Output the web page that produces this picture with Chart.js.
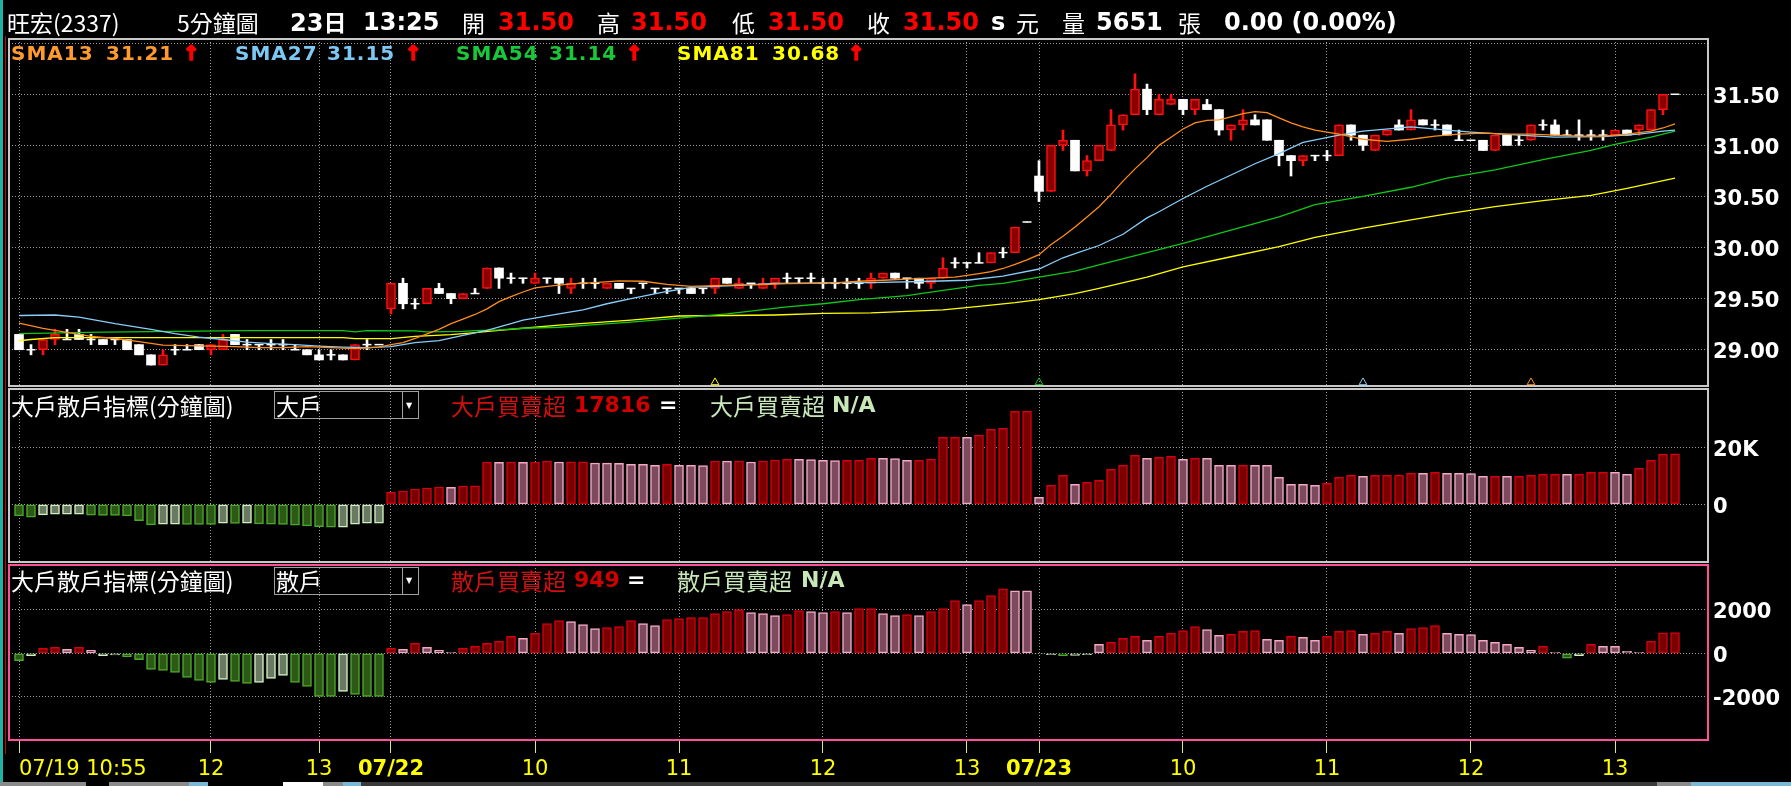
<!DOCTYPE html>
<html lang="zh-Hant">
<head>
<meta charset="UTF-8">
<title>旺宏(2337) 5分鐘圖</title>
<script src="https://cdn.jsdelivr.net/npm/chart.js"></script>
<style>
  html, body { margin: 0; padding: 0; background: #000; }
  body { width: 1791px; height: 786px; position: relative; overflow: hidden; }
  canvas { position: absolute; left: 0; top: 0; }
  .t { position: absolute; white-space: nowrap; line-height: 1; transform: translateY(-50%); color: #fff; }
  .c { font-family: "Noto Sans CJK TC", sans-serif; font-size: 23px; }
  .n { font-family: "DejaVu Sans", sans-serif; font-weight: bold; font-size: 24px; }
  .s { font-family: "DejaVu Sans", sans-serif; font-weight: bold; font-size: 20px; letter-spacing: 1px; }
  .m { font-family: "DejaVu Sans", sans-serif; font-weight: bold; font-size: 22px; }
  .red { color: #ff0000; }
  .arw { color: #ff0000; -webkit-text-stroke: 1.6px #ff0000; }
  .box { position: absolute; border: 1px solid #a0a0a0; }
  .bar { position: absolute; }
</style>
</head>
<body>
<canvas id="price" width="1791" height="786"></canvas>
<canvas id="big" width="1791" height="786"></canvas>
<canvas id="retail" width="1791" height="786"></canvas>

<!-- left edge -->
<div class="bar" style="left:0;top:0;width:3px;height:786px;background:#1fb3a5"></div>
<div class="bar" style="left:5px;top:36px;width:1px;height:718px;background:#d00000"></div>

<!-- header -->
<span class="t c" style="left:7px;top:22px">旺宏(2337)</span>
<span class="t c" style="left:177px;top:22px">5分鐘圖</span>
<span class="t n" style="left:290px;top:22px">23<span style="font-family:'Noto Sans CJK TC';font-size:23px">日</span></span>
<span class="t n" style="left:363px;top:22px">13:25</span>
<span class="t c" style="left:462px;top:22px">開</span>
<span class="t n red" style="left:498px;top:22px">31.50</span>
<span class="t c" style="left:597px;top:22px">高</span>
<span class="t n red" style="left:631px;top:22px">31.50</span>
<span class="t c" style="left:732px;top:22px">低</span>
<span class="t n red" style="left:768px;top:22px">31.50</span>
<span class="t c" style="left:867px;top:22px">收</span>
<span class="t n red" style="left:903px;top:22px">31.50</span>
<span class="t n" style="left:991px;top:22px">s</span>
<span class="t c" style="left:1016px;top:22px">元</span>
<span class="t c" style="left:1062px;top:22px">量</span>
<span class="t n" style="left:1096px;top:22px">5651</span>
<span class="t c" style="left:1178px;top:22px">張</span>
<span class="t n" style="left:1224px;top:22px">0.00 (0.00%)</span>

<!-- moving average legend -->
<span class="t s" style="left:11px;top:53px;color:#ff9a2e">SMA13</span>
<span class="t s" style="left:106px;top:53px;color:#ff9a2e">31.21</span>
<span class="t s arw" style="left:183px;top:53px">↑</span>
<span class="t s" style="left:235px;top:53px;color:#7cc8f4">SMA27</span>
<span class="t s" style="left:327px;top:53px;color:#7cc8f4">31.15</span>
<span class="t s arw" style="left:405px;top:53px">↑</span>
<span class="t s" style="left:456px;top:53px;color:#18c838">SMA54</span>
<span class="t s" style="left:549px;top:53px;color:#18c838">31.14</span>
<span class="t s arw" style="left:626px;top:53px">↑</span>
<span class="t s" style="left:677px;top:53px;color:#ffff00">SMA81</span>
<span class="t s" style="left:772px;top:53px;color:#ffff00">30.68</span>
<span class="t s arw" style="left:848px;top:53px">↑</span>

<!-- panel 2 legend -->
<span class="t c" style="left:11px;top:405px">大戶散戶指標(分鐘圖)</span>
<div class="box" style="left:274px;top:391px;width:143px;height:26px"></div>
<div class="bar" style="left:402px;top:392px;width:1px;height:26px;background:#a0a0a0"></div>
<span class="t" style="left:406px;top:406px;font-size:8px;font-family:'DejaVu Sans'">▼</span>
<span class="t c" style="left:276px;top:405px">大戶</span>
<span class="t c" style="left:451px;top:405px;color:#d01010">大戶買賣超</span>
<span class="t m" style="left:574px;top:405px;color:#d00000">17816</span>
<span class="t m" style="left:659px;top:405px">=</span>
<span class="t c" style="left:710px;top:405px;color:#c8e8b8">大戶買賣超</span>
<span class="t m" style="left:832px;top:405px;color:#c8e8b8">N/A</span>

<!-- panel 3 legend -->
<span class="t c" style="left:11px;top:580px">大戶散戶指標(分鐘圖)</span>
<div class="box" style="left:274px;top:567px;width:143px;height:26px"></div>
<div class="bar" style="left:402px;top:568px;width:1px;height:26px;background:#a0a0a0"></div>
<span class="t" style="left:406px;top:581px;font-size:8px;font-family:'DejaVu Sans'">▼</span>
<span class="t c" style="left:276px;top:580px">散戶</span>
<span class="t c" style="left:451px;top:580px;color:#d01010">散戶買賣超</span>
<span class="t m" style="left:574px;top:580px;color:#d00000">949</span>
<span class="t m" style="left:627px;top:580px">=</span>
<span class="t c" style="left:677px;top:580px;color:#c8e8b8">散戶買賣超</span>
<span class="t m" style="left:801px;top:580px;color:#c8e8b8">N/A</span>

<!-- scroll bar -->
<div class="bar" style="left:0;top:782px;width:86px;height:4px;background:#8a8a8a"></div>
<div class="bar" style="left:109px;top:782px;width:80px;height:4px;background:#8a8a8a"></div>
<div class="bar" style="left:189px;top:782px;width:19px;height:4px;background:#7ab8d8"></div>
<div class="bar" style="left:283px;top:782px;width:40px;height:4px;background:#ffffff"></div>
<div class="bar" style="left:323px;top:782px;width:20px;height:4px;background:#8a8a8a"></div>
<div class="bar" style="left:343px;top:782px;width:18px;height:4px;background:#7ab8d8"></div>
<div class="bar" style="left:361px;top:782px;width:1296px;height:4px;background:#3a3a3a"></div>
<div class="bar" style="left:1657px;top:782px;width:34px;height:4px;background:#8a8a8a"></div>
<div class="bar" style="left:1691px;top:782px;width:100px;height:4px;background:#7ab8d8"></div>

<script>
// ---- data (5-minute bars, 07/19 10:55 .. 07/23 13:25) ----
const candleOpen = [
  29.15,29.00,29.00,29.10,29.10,29.15,29.10,29.10,29.10,29.10,
  29.05,28.95,28.85,29.00,29.00,29.05,29.00,29.00,29.15,29.05,
  29.05,29.05,29.05,29.00,29.00,28.95,28.95,28.95,28.90,29.05,
  29.05,
  29.40,29.65,29.45,29.45,29.60,29.55,29.50,29.55,29.60,
  29.80,29.70,29.70,29.65,29.70,29.70,29.60,29.65,29.65,29.60,
  29.65,29.60,29.65,29.60,29.60,29.60,29.60,29.60,29.60,29.70,
  29.60,29.65,29.60,29.65,29.70,29.70,29.70,29.65,29.65,29.65,
  29.65,29.65,29.70,29.75,29.70,29.70,29.65,29.70,29.85,29.85,
  29.85,29.85,29.95,29.95,30.25,
  30.70,30.55,31.00,31.05,30.75,30.85,30.95,31.20,31.30,31.55,
  31.30,31.40,31.45,31.35,31.40,31.35,31.15,31.20,31.25,31.25,
  31.05,30.90,30.85,30.90,30.90,30.90,31.20,31.10,30.95,31.10,
  31.20,31.15,31.25,31.20,31.20,31.05,31.05,31.05,30.95,31.10,
  31.05,31.05,31.20,31.20,31.10,31.10,31.10,31.10,31.10,31.15,
  31.15,31.15,31.35,31.50
];
const candleHigh = [
  29.15,29.05,29.10,29.20,29.20,29.20,29.15,29.10,29.10,29.10,
  29.05,28.95,29.00,29.05,29.05,29.05,29.05,29.15,29.15,29.10,
  29.05,29.10,29.10,29.05,29.00,29.00,29.00,28.95,29.05,29.10,
  29.05,
  29.65,29.70,29.50,29.60,29.65,29.55,29.55,29.60,29.80,
  29.80,29.75,29.70,29.75,29.70,29.70,29.70,29.70,29.70,29.65,
  29.65,29.60,29.65,29.60,29.60,29.60,29.60,29.60,29.70,29.70,
  29.70,29.65,29.70,29.70,29.75,29.70,29.75,29.70,29.70,29.70,
  29.70,29.75,29.75,29.75,29.70,29.70,29.70,29.90,29.90,29.85,
  29.95,29.95,30.00,30.20,30.25,
  30.85,31.00,31.15,31.05,30.90,31.00,31.35,31.30,31.70,31.60,
  31.50,31.50,31.45,31.45,31.45,31.35,31.20,31.35,31.30,31.25,
  31.05,30.90,30.90,30.90,30.95,31.20,31.20,31.10,31.10,31.15,
  31.25,31.35,31.25,31.25,31.20,31.15,31.05,31.05,31.10,31.10,
  31.10,31.20,31.25,31.25,31.15,31.25,31.15,31.15,31.15,31.15,
  31.20,31.35,31.50,31.50
];
const candleLow = [
  29.00,28.95,28.95,29.05,29.10,29.10,29.05,29.05,29.05,29.00,
  28.95,28.85,28.85,28.95,29.00,29.00,28.95,29.00,29.05,29.00,
  29.00,29.00,29.00,29.00,28.95,28.90,28.90,28.90,28.90,29.00,
  29.05,
  29.35,29.40,29.40,29.45,29.55,29.45,29.50,29.55,29.60,
  29.60,29.65,29.65,29.65,29.65,29.55,29.55,29.60,29.60,29.60,
  29.60,29.55,29.60,29.55,29.55,29.55,29.55,29.55,29.55,29.65,
  29.60,29.60,29.60,29.60,29.65,29.65,29.65,29.60,29.60,29.60,
  29.60,29.60,29.70,29.70,29.60,29.60,29.60,29.70,29.80,29.80,
  29.85,29.85,29.90,29.95,30.25,
  30.45,30.55,30.95,30.75,30.70,30.85,30.95,31.15,31.30,31.30,
  31.30,31.40,31.30,31.30,31.35,31.10,31.05,31.15,31.20,31.05,
  30.80,30.70,30.80,30.85,30.85,30.90,31.05,30.95,30.95,31.10,
  31.15,31.15,31.20,31.15,31.10,31.05,31.05,30.95,30.95,31.00,
  31.00,31.05,31.15,31.10,31.10,31.05,31.05,31.05,31.10,31.10,
  31.10,31.15,31.30,31.50
];
const candleClose = [
  29.00,29.00,29.10,29.15,29.10,29.10,29.10,29.05,29.10,29.00,
  28.95,28.85,28.95,29.00,29.00,29.00,29.05,29.10,29.05,29.05,
  29.05,29.05,29.05,29.00,28.95,28.90,28.95,28.90,29.05,29.05,
  29.05,
  29.65,29.45,29.45,29.60,29.55,29.50,29.55,29.55,29.80,
  29.70,29.70,29.70,29.70,29.70,29.65,29.65,29.65,29.65,29.65,
  29.60,29.60,29.65,29.60,29.60,29.60,29.55,29.60,29.70,29.65,
  29.65,29.65,29.65,29.70,29.70,29.70,29.70,29.65,29.65,29.65,
  29.65,29.70,29.75,29.70,29.70,29.65,29.70,29.80,29.85,29.85,
  29.85,29.95,29.95,30.20,30.25,
  30.55,31.00,31.05,30.75,30.85,31.00,31.20,31.30,31.55,31.35,
  31.45,31.45,31.35,31.45,31.35,31.15,31.20,31.25,31.20,31.05,
  30.90,30.85,30.90,30.90,30.90,31.20,31.10,31.00,31.10,31.15,
  31.15,31.25,31.20,31.20,31.10,31.05,31.05,30.95,31.10,31.00,
  31.05,31.20,31.20,31.10,31.10,31.10,31.10,31.10,31.15,31.10,
  31.20,31.35,31.50,31.50
];

// moving averages, [bar index, value]
const sma13 = [[0,29.26],[2,29.21],[4,29.17],[6,29.13],[8,29.11],[10,29.08],[12,29.045],[14,29.04],[16,29.035],[18,29.03],
  [20,29.02],[22,29.02],[24,29.03],[26,29.02],[28,29.01],[30,29.025],[31,29.05],[32,29.07],[33,29.11],[34,29.155],
  [35,29.20],[36,29.255],[37,29.30],[38,29.345],[39,29.40],[40,29.47],[41,29.52],[42,29.565],[43,29.605],[44,29.62],
  [46,29.645],[48,29.657],[50,29.673],[52,29.67],[54,29.64],[56,29.62],[58,29.627],[60,29.634],[62,29.637],[64,29.647],
  [66,29.65],[68,29.654],[70,29.67],[72,29.68],[74,29.69],[76,29.70],[78,29.71],[80,29.745],[81,29.765],[82,29.795],
  [83,29.835],[84,29.88],[85,29.93],[86,30.03],[87,30.11],[88,30.20],[89,30.30],[90,30.40],[91,30.52],[92,30.65],
  [93,30.77],[94,30.88],[95,31.00],[96,31.08],[97,31.16],[98,31.22],[99,31.245],[100,31.25],[101,31.28],[102,31.31],
  [103,31.33],[104,31.32],[105,31.27],[106,31.22],[107,31.18],[108,31.15],[109,31.13],[110,31.11],[112,31.06],[114,31.04],
  [116,31.06],[118,31.09],[120,31.11],[122,31.12],[124,31.11],[126,31.11],[128,31.10],[130,31.09],[132,31.09],[134,31.11],
  [136,31.14],[137,31.17],[138,31.21]];
const sma27 = [[0,29.335],[3,29.34],[5,29.32],[8,29.255],[11,29.20],[13,29.157],[15,29.124],[17,29.10],[19,29.075],[21,29.06],
  [23,29.05],[25,29.036],[27,29.026],[29,29.02],[31,29.03],[33,29.07],[35,29.09],[37,29.14],[39,29.19],[41,29.255],
  [42,29.29],[45,29.35],[47,29.39],[49,29.45],[51,29.50],[54,29.57],[56,29.61],[60,29.63],[63,29.65],[67,29.655],
  [71,29.657],[76,29.67],[79,29.68],[82,29.72],[85,29.79],[87,29.90],[88,29.94],[90,30.02],[92,30.13],[94,30.29],
  [95,30.35],[97,30.48],[99,30.60],[101,30.71],[103,30.82],[105,30.92],[107,31.03],[110,31.10],[112,31.14],[116,31.18],
  [119,31.15],[121,31.13],[125,31.10],[128,31.08],[132,31.085],[135,31.11],[137,31.14],[138,31.15]];
const sma54 = [[0,29.157],[7,29.173],[19,29.186],[27,29.186],[28,29.175],[29,29.186],[33,29.185],[34,29.175],[37,29.18],[38,29.186],
  [40,29.195],[42,29.21],[45,29.22],[48,29.245],[51,29.27],[55,29.31],[59,29.35],[64,29.42],[67,29.45],[70,29.49],
  [74,29.53],[77,29.58],[80,29.63],[82,29.65],[85,29.71],[88,29.77],[90,29.83],[94,29.95],[97,30.04],[101,30.17],
  [105,30.30],[108,30.42],[112,30.50],[116,30.59],[119,30.68],[123,30.76],[127,30.86],[131,30.95],[133,31.01],[136,31.08],
  [138,31.14]];
const sma81 = [[0,29.088],[1,29.10],[3,29.118],[27,29.118],[28,29.108],[31,29.108],[33,29.13],[36,29.147],[38,29.167],[40,29.19],
  [42,29.21],[45,29.24],[51,29.29],[55,29.33],[63,29.34],[67,29.355],[71,29.36],[75,29.38],[77,29.39],[80,29.425],
  [83,29.46],[85,29.49],[88,29.55],[90,29.60],[94,29.71],[97,29.81],[101,29.91],[105,30.01],[108,30.10],[112,30.19],
  [116,30.27],[119,30.33],[123,30.40],[127,30.46],[131,30.51],[134,30.58],[138,30.68]];

// small triangle markers at the bottom of the price panel
const signalIdx = [58, 85, 112, 126];
const signalLine = ['sma81', 'sma54', 'sma27', 'sma13'];
const signalLevel = 28.68;

// 大戶買賣超 (panel 2) and 散戶買賣超 (panel 3); shade: D = rising bar, L = falling bar
const bigVals = [
  -4100,-4590,-3760,-3530,-3500,-3470,-3880,-3910,-3940,-4100,
  -5760,-7290,-7060,-7030,-7090,-7120,-7150,-6700,-6730,-6700,
  -6940,-7060,-7090,-7400,-7640,-7880,-8110,-8080,-7060,-6700,
  -6670,
  4230,4700,5410,5760,6110,6000,6470,6500,14940,
  14850,14940,14850,14940,15290,14940,15000,15050,14580,14550,
  14520,14110,14080,13760,14110,13760,13730,13700,15290,15250,
  15290,14940,15290,15640,15880,15850,15820,15520,15490,15520,
  15550,16230,16200,16170,15500,15560,15880,23640,23700,23650,
  24340,26460,26810,32810,32850,
  2470,6700,10230,7060,7760,8470,12350,13760,17290,16230,
  16580,16930,15880,16230,16200,13760,13730,13790,13760,13730,
  9530,7060,7030,6700,7410,9530,10230,9880,10230,10260,
  10290,10940,10910,11290,10940,10910,10880,9880,9910,9880,
  9910,10230,10580,10610,10580,10610,11290,11320,11290,10580,
  12700,15520,17750,17816
];
const bigShade =
  'DDLLLLDDDDDDLLDDDLDLDDDDDDDLLLL' +
  'DDDDDLDDDLDLDDLDDLLLLLLDLLLDLDLDDDLLLLDDDLL' +
  'LDDDDLDDDDDLDDLDDDDDLDDLDLLLDLLLLLLDDDLDDDDLDLLLLDLDDDDLDDDLLDDDD';
const retailVals = [
  -333,-106,227,273,182,273,136,-106,-76,-152,
  -288,-742,-788,-879,-1106,-1242,-1333,-1197,-1288,-1379,
  -1333,-1151,-1015,-1333,-1515,-1970,-1975,-1742,-1879,-1970,
  -1975,
  227,182,455,273,136,45,227,318,455,
  545,773,682,909,1364,1500,1455,1318,1136,1182,
  1227,1500,1364,1273,1545,1591,1636,1640,1818,1909,
  2000,1864,1818,1727,1773,1955,1909,1864,1909,1864,
  2045,2050,1818,1727,1773,1727,1909,2045,2409,2227,
  2409,2636,2955,2864,2860,
  -30,-61,-106,-100,-61,409,500,682,773,591,
  773,909,1045,1227,1091,818,864,1000,1045,636,
  591,773,727,591,773,1000,1045,864,909,1000,
  909,1136,1182,1273,909,864,860,591,500,409,
  273,136,318,45,-227,-106,409,318,315,91,
  45,545,940,949
];
const retailShade =
  'DLDDLDLLLD' + 'DDDDDDDLDD' + 'LLLDDDDLDDD' + 'DLDLLLDDDD' + 'DLDDDLLLDD' +
  'DLLDDDDDDD' + 'LLLDDLLDLD' + 'DLLDLDDDLD' + 'DDLLLLDLLL' + 'DDDLDDDDLL' +
  'DDDLLDLLDD' + 'DLDDLDDDLL' + 'LLLLLLDLDL' + 'DLLLLDDD';

// axes
const xTickIdx = [0, 16, 25, 31, 43, 55, 67, 79, 85, 97, 109, 121, 133];
const xTickLbl = ['07/19 10:55', '12', '13', '07/22', '10', '11', '12', '13', '07/23', '10', '11', '12', '13'];
const priceTicks = [29.0, 29.5, 30.0, 30.5, 31.0, 31.5, 32.0];
const bigTicks = [0, 20000];
const retailTicks = [-2000, 0, 2000];

// ---- drawing ----
const X_MIN = -10 / 12, X_MAX = X_MIN + 1699 / 12;
const GRID = '#9a9a9a';
const LINE_COLORS = { sma13: '#ff8c1a', sma27: '#87cefa', sma54: '#10c818', sma81: '#ffff00' };

const idx = candleOpen.map((_, i) => i);
const isUp = i => candleClose[i] > candleOpen[i];
const isDoji = i => candleClose[i] === candleOpen[i];
const bodyIdx = idx.filter(i => !isDoji(i));
const dojiIdx = idx.filter(isDoji);

const framePlugin = {
  id: 'frame',
  afterDraw(chart, args, opts) {
    const a = chart.chartArea, ctx = chart.ctx;
    ctx.save();
    ctx.strokeStyle = opts.color;
    ctx.lineWidth = 2;
    ctx.strokeRect(a.left, a.top, a.right - a.left, a.bottom - a.top);
    ctx.restore();
  }
};

function xScale(withLabels) {
  return {
    type: 'linear', min: X_MIN, max: X_MAX, offset: false,
    afterBuildTicks: s => {
      s.ticks = xTickIdx.map(v => ({ value: v }));
      if (withLabels) s.ticks.push({ value: X_MAX });
    },
    afterFit: s => { s.height = withLabels ? 46 : 0; },
    grid: {
      offset: false,
      color: c => (c.tick && c.tick.value === X_MAX) ? 'rgba(0,0,0,0)' : GRID,
      drawTicks: withLabels, tickLength: 13,
      tickColor: c => (c.tick && c.tick.value === X_MAX) ? 'rgba(0,0,0,0)' : '#e8e860'
    },
    border: { display: false, dash: [1, 2] },
    ticks: {
      display: withLabels, autoSkip: false, maxRotation: 0, minRotation: 0,
      align: 'inner', padding: 4, color: '#ffff00',
      font: c => ({ family: 'DejaVu Sans', size: 21,
        weight: /^\d\d\/\d\d$/.test(xTickLbl[c.index] || '') ? 'bold' : 'normal' }),
      callback: (v, i) => xTickLbl[i] || ''
    }
  };
}

function yScale(min, max, ticks, fmt) {
  return {
    position: 'right', min, max,
    afterBuildTicks: s => { s.ticks = ticks.map(v => ({ value: v })); },
    afterFit: s => { s.width = 83; },
    grid: { color: GRID, drawTicks: false, offset: false },
    border: { display: false, dash: [1, 2] },
    ticks: { color: '#ffffff', padding: 5, autoSkip: false, labelOffset: 3,
      font: { family: 'DejaVu Sans', size: 21, weight: 'bold' }, callback: fmt }
  };
}

function baseOptions(padTop, padBottom, withLabels, y, frameColor) {
  return {
    responsive: false, animation: false, devicePixelRatio: 1,
    layout: { padding: { left: 9, right: 0, top: padTop, bottom: padBottom } },
    plugins: { legend: { display: false }, tooltip: { enabled: false }, frame: { color: frameColor } },
    scales: { x: xScale(withLabels), y }
  };
}

const lineDs = (pairs, color) => ({
  type: 'line', data: pairs.map(([x, y]) => ({ x, y })), borderColor: color, borderWidth: 1.3,
  pointRadius: 0, tension: 0, order: 0
});

new Chart(document.getElementById('price'), {
  type: 'bar',
  data: {
    datasets: [
      lineDs(sma13, LINE_COLORS.sma13),
      lineDs(sma27, LINE_COLORS.sma27),
      lineDs(sma54, LINE_COLORS.sma54),
      lineDs(sma81, LINE_COLORS.sma81),
      {
        type: 'line', data: signalIdx.map(i => ({ x: i, y: signalLevel })), showLine: false,
        pointStyle: 'triangle', pointRadius: 4.5, pointBorderWidth: 1,
        pointBorderColor: signalLine.map(k => LINE_COLORS[k]), pointBackgroundColor: 'rgba(0,0,0,0)', order: 0
      },
      {
        type: 'line', data: dojiIdx.map(i => ({ x: i, y: candleClose[i] })), showLine: false,
        pointStyle: 'line', pointRadius: 4.5, pointBorderWidth: 1.5, pointBorderColor: '#ffffff', order: 1
      },
      {
        type: 'bar', data: bodyIdx.map(i => ({ x: i, y: [candleOpen[i], candleClose[i]] })),
        backgroundColor: bodyIdx.map(i => isUp(i) ? '#8a0000' : '#ffffff'),
        borderColor: bodyIdx.map(i => isUp(i) ? '#ff1010' : '#ffffff'),
        borderWidth: bodyIdx.map(i => isUp(i) ? 1.5 : 0),
        borderSkipped: false, barThickness: 9, grouped: false, order: 2
      },
      {
        type: 'bar', data: idx.map(i => ({ x: i, y: [candleLow[i], candleHigh[i]] })),
        backgroundColor: idx.map(i => isUp(i) ? '#ff1010' : '#ffffff'),
        borderWidth: 0, barThickness: 2, grouped: false, order: 3
      }
    ]
  },
  options: baseOptions(39, 400, false,
    yScale(28.645, 32.041, priceTicks, v => v >= 32 ? '' : v.toFixed(2)), '#c8c8c8'),
  plugins: [framePlugin]
});

const histFill = (v, s) => v >= 0 ? (s === 'L' ? '#7c4a5c' : '#7a0000') : (s === 'L' ? '#6a7a62' : '#2c5a16');
const histEdge = (v, s) => v >= 0 ? (s === 'L' ? '#f4a8c4' : '#d00010') : (s === 'L' ? '#d0f0c0' : '#4ca82c');
const histDs = (vals, shade) => ({
  type: 'bar', data: vals.map((v, i) => ({ x: i, y: v })),
  backgroundColor: vals.map((v, i) => histFill(v, shade[i] || 'D')),
  borderColor: vals.map((v, i) => histEdge(v, shade[i] || 'D')),
  borderWidth: 1.5, borderSkipped: false, barThickness: 9, grouped: false
});

new Chart(document.getElementById('big'), {
  type: 'bar',
  data: { datasets: [histDs(bigVals, bigShade)] },
  options: baseOptions(389, 224, false,
    yScale(-20389, 40742, bigTicks, v => v === 0 ? '0' : (v / 1000) + 'K'), '#c8c8c8'),
  plugins: [framePlugin]
});

new Chart(document.getElementById('retail'), {
  type: 'bar',
  data: { datasets: [histDs(retailVals, retailShade)] },
  options: baseOptions(565, 0, true,
    yScale(-3968, 4041, retailTicks, v => String(v)), '#ff4f9a'),
  plugins: [framePlugin]
});
</script>
</body>
</html>
